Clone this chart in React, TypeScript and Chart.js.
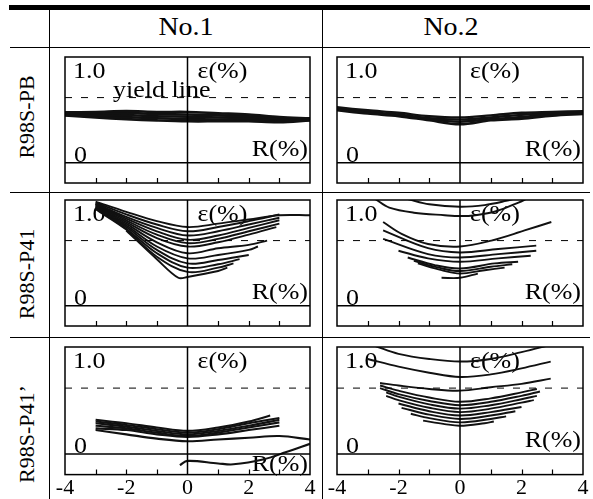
import React, { useEffect, useRef } from "react";
import { Chart, registerables } from "chart.js";

Chart.register(...registerables);

const FONT = '"Liberation Serif", "Times New Roman", serif';

// ---- axes / labels ----
const xMin = -4;
const xMax = 4;
const yMin = -0.24;
const yMax = 1.25;
const yieldLevel = 0.77;
const xTickStep = 2;
const minorTickValues = [-3, -2, -1, 1, 2, 3];
const columnTitles = ["No.1", "No.2"];
const rowTitles = ["R98S-PB", "R98S-P41", "R98S-P41’"];

type P = [number, number];

// ---- R98S-PB, No.1 ----
const pb1a: P[] = [[-4, 0.595], [-3, 0.6], [-2, 0.61], [-1, 0.6], [0, 0.6], [1, 0.585], [2, 0.57], [3, 0.54], [4, 0.525]];
const pb1b: P[] = [[-4, 0.585], [-3, 0.585], [-2, 0.59], [-1, 0.575], [0, 0.57], [1, 0.56], [2, 0.55], [3, 0.525], [4, 0.52]];
const pb1c: P[] = [[-4, 0.575], [-3, 0.565], [-2, 0.565], [-1, 0.55], [0, 0.545], [1, 0.535], [2, 0.53], [3, 0.51], [4, 0.51]];
const pb1d: P[] = [[-4, 0.565], [-3, 0.55], [-2, 0.54], [-1, 0.525], [0, 0.515], [1, 0.51], [2, 0.51], [3, 0.495], [4, 0.505]];
const pb1e: P[] = [[-4, 0.56], [-3, 0.535], [-2, 0.515], [-1, 0.5], [0, 0.49], [1, 0.49], [2, 0.49], [3, 0.48], [4, 0.5]];

// ---- R98S-PB, No.2 ----
const pb2a: P[] = [[-4, 0.655], [-3, 0.62], [-2, 0.59], [-1, 0.55], [0, 0.535], [1, 0.56], [2, 0.59], [3, 0.6], [4, 0.61]];
const pb2b: P[] = [[-4, 0.64], [-3, 0.6], [-2, 0.57], [-1, 0.525], [0, 0.51], [1, 0.535], [2, 0.565], [3, 0.585], [4, 0.595]];
const pb2c: P[] = [[-4, 0.63], [-3, 0.59], [-2, 0.56], [-1, 0.51], [0, 0.485], [1, 0.515], [2, 0.54], [3, 0.57], [4, 0.585]];
const pb2d: P[] = [[-4, 0.62], [-3, 0.58], [-2, 0.55], [-1, 0.5], [0, 0.455], [1, 0.5], [2, 0.52], [3, 0.555], [4, 0.575]];

// ---- R98S-P41, No.1 ----
const p41n1a: P[] = [[-3, 1.23], [-2, 1.11], [-1, 1.0], [0, 0.93], [1, 0.97], [2, 1.02], [3, 1.07], [4, 1.07]];
const p41n1b: P[] = [[-3, 1.22], [-2, 1.08], [-1, 0.96], [0, 0.88], [1, 0.93], [2, 1.0], [3, 1.08]];
const p41n1c: P[] = [[-3, 1.21], [-2, 1.05], [-1, 0.92], [0, 0.83], [1, 0.88], [2, 0.96], [3, 1.04]];
const p41n1d: P[] = [[-3, 1.2], [-2, 1.03], [-1, 0.88], [0, 0.78], [1, 0.83], [2, 0.92], [3, 1.01]];
const p41n1e: P[] = [[-3, 1.2], [-2, 1.01], [-1, 0.84], [0, 0.74], [1, 0.79], [2, 0.88], [3, 0.97]];
const p41n1f: P[] = [[-3, 1.19], [-2, 0.99], [-1, 0.8], [0, 0.7], [1, 0.75], [2, 0.84], [2.9, 0.93]];
const p41n1g: P[] = [[-3, 1.18], [-2, 0.97], [-1, 0.75], [0, 0.62], [1, 0.68], [2, 0.72], [2.6, 0.77]];
const p41n1h: P[] = [[-3, 1.17], [-2, 0.95], [-1, 0.7], [0, 0.56], [1, 0.6], [2, 0.66], [2.3, 0.7]];
const p41n1i: P[] = [[-3, 1.16], [-2, 0.93], [-1, 0.66], [0, 0.5], [1, 0.54], [2, 0.6]];
const p41n1j: P[] = [[-3, 1.15], [-2, 0.91], [-1, 0.62], [0, 0.45], [1, 0.49], [1.7, 0.55]];
const p41n1k: P[] = [[-3, 1.14], [-2, 0.9], [-1, 0.58], [0, 0.4], [1, 0.45], [1.5, 0.5]];
const p41n1l: P[] = [[-2, 0.89], [-1, 0.55], [-0.3, 0.33], [0, 0.34], [1, 0.41], [1.3, 0.45]];

// ---- R98S-P41, No.2 ----
const p41n2a: P[] = [[-2.75, 1.26], [-2.3, 1.16], [-1.5, 1.1], [-0.5, 1.07], [0, 1.06], [0.5, 1.07], [1.2, 1.12], [1.9, 1.22], [2.2, 1.27]];
const p41n2b: P[] = [[-1.7, 1.26], [-1, 1.2], [0, 1.17], [0.8, 1.19], [1.5, 1.24], [1.8, 1.27]];
const p41n2c: P[] = [[-2.5, 0.99], [-1.9, 0.85], [-1.04, 0.73], [0, 0.7], [1.02, 0.77], [2.1, 0.89], [2.97, 0.99]];
const p41n2d: P[] = [[-2.5, 0.89], [-1.04, 0.68], [0, 0.63], [1.24, 0.67], [2.48, 0.71]];
const p41n2e: P[] = [[-2.5, 0.79], [-1.04, 0.61], [0, 0.57], [1.24, 0.61], [2.48, 0.65]];
const p41n2f: P[] = [[-2.0, 0.65], [-1.04, 0.56], [0, 0.52], [1.24, 0.56], [2.3, 0.59]];
const p41n2g: P[] = [[-1.7, 0.57], [-0.82, 0.48], [0, 0.44], [1.13, 0.5], [1.89, 0.52]];
const p41n2h: P[] = [[-1.5, 0.53], [-0.7, 0.45], [0, 0.41], [1, 0.46], [1.7, 0.49]];
const p41n2i: P[] = [[-1.37, 0.5], [-0.6, 0.42], [0, 0.38], [0.8, 0.42], [1.45, 0.45]];
const p41n2j: P[] = [[-0.6, 0.33], [0, 0.33], [0.58, 0.38]];

// ---- R98S-P41', No.1 ----
const p41pn1a: P[] = [[-3, 0.4], [-2, 0.36], [-1, 0.31], [0, 0.27], [1, 0.31], [2, 0.38], [2.7, 0.45]];
const p41pn1b: P[] = [[-3, 0.38], [-2, 0.34], [-1, 0.29], [0, 0.25], [1, 0.29], [2, 0.36], [3, 0.42]];
const p41pn1c: P[] = [[-3, 0.36], [-2, 0.32], [-1, 0.27], [0, 0.23], [1, 0.27], [2, 0.33], [3, 0.4]];
const p41pn1d: P[] = [[-3, 0.33], [-2, 0.3], [-1, 0.25], [0, 0.21], [1, 0.25], [2, 0.31], [3, 0.37]];
const p41pn1e: P[] = [[-3, 0.3], [-2, 0.28], [-1, 0.23], [0, 0.2], [1, 0.23], [2, 0.28], [3, 0.33]];
const p41pn1f: P[] = [[-3, 0.28], [-2, 0.23], [-1, 0.18], [0, 0.15], [1, 0.17], [2, 0.19], [3, 0.21], [4, 0.17]];
const p41pn1g: P[] = [[-0.25, -0.13], [0, -0.08], [1, -0.11], [1.5, -0.12], [2.5, -0.06], [3.2, 0.02], [4, 0.12]];

// ---- R98S-P41', No.2 ----
const p41pn2a: P[] = [[-2.75, 1.26], [-2, 1.17], [-1, 1.11], [0, 1.08], [1, 1.11], [2, 1.19], [3, 1.28]];
const p41pn2b: P[] = [[-3, 1.11], [-2, 1.02], [-1, 0.95], [0, 0.9], [1, 0.93], [2, 1.0], [2.95, 1.08]];
const p41pn2c: P[] = [[-2.6, 0.83], [-2, 0.8], [-1, 0.76], [0, 0.74], [1, 0.78], [2, 0.82], [2.95, 0.88]];
const p41pn2d: P[] = [[-2.6, 0.8], [-2, 0.74], [-1, 0.66], [0, 0.61], [1, 0.65], [2, 0.72], [2.5, 0.76]];
const p41pn2e: P[] = [[-2.6, 0.77], [-2, 0.7], [-1, 0.62], [0, 0.57], [1, 0.61], [2, 0.68], [2.6, 0.73]];
const p41pn2f: P[] = [[-2.4, 0.72], [-2, 0.67], [-1, 0.58], [0, 0.53], [1, 0.57], [2, 0.64], [2.5, 0.68]];
const p41pn2g: P[] = [[-2.4, 0.68], [-2, 0.63], [-1, 0.54], [0, 0.49], [1, 0.53], [2, 0.6], [2.4, 0.63]];
const p41pn2h: P[] = [[-2.0, 0.59], [-1, 0.5], [0, 0.45], [1, 0.49], [2, 0.55]];
const p41pn2i: P[] = [[-1.9, 0.54], [-1, 0.46], [0, 0.41], [1, 0.45], [1.8, 0.5]];
const p41pn2j: P[] = [[-1.6, 0.47], [-1, 0.42], [0, 0.37], [1, 0.41], [1.5, 0.44]];
const p41pn2k: P[] = [[-1.2, 0.39], [-0.5, 0.35], [0, 0.33], [0.8, 0.36], [1.1, 0.38]];

type PanelSpec = {
  curves: P[][];
  width: number;
  yieldText?: boolean;
  rBelow?: boolean;
};

const panels: PanelSpec[][] = [
  [
    { curves: [pb1a, pb1b, pb1c, pb1d, pb1e], width: 2.6, yieldText: true },
    { curves: [pb2a, pb2b, pb2c, pb2d], width: 2.4 },
  ],
  [
    { curves: [p41n1a, p41n1b, p41n1c, p41n1d, p41n1e, p41n1f, p41n1g, p41n1h, p41n1i, p41n1j, p41n1k, p41n1l], width: 1.9 },
    { curves: [p41n2a, p41n2b, p41n2c, p41n2d, p41n2e, p41n2f, p41n2g, p41n2h, p41n2i, p41n2j], width: 1.9 },
  ],
  [
    { curves: [p41pn1a, p41pn1b, p41pn1c, p41pn1d, p41pn1e, p41pn1f, p41pn1g], width: 2.1, rBelow: true },
    { curves: [p41pn2a, p41pn2b, p41pn2c, p41pn2d, p41pn2e, p41pn2f, p41pn2g, p41pn2h, p41pn2i, p41pn2j, p41pn2k], width: 1.9 },
  ],
];

// layout of the plot boxes (page px)
const colBoxes = [
  { left: 65, width: 245 },
  { left: 337, width: 246 },
];
const rowBoxes = [
  { top: 57, height: 126 },
  { top: 200, height: 126 },
  { top: 347, height: 127 },
];
const PAD_X = 16;
const PAD_Y = 4;
const AXIS_H = 27;
const STRETCH = 1.13;

function drawText(ctx: CanvasRenderingContext2D, text: string, x: number, y: number, align: "left" | "right") {
  ctx.save();
  ctx.translate(x, y);
  ctx.scale(STRETCH, 1);
  ctx.textAlign = align;
  ctx.fillText(text, 0, 0);
  ctx.restore();
}

const panelDeco = {
  id: "panelDeco",
  beforeDatasetsDraw(chart: any, _args: any, opts: any) {
    const { ctx, chartArea: a, scales } = chart;
    const x = scales.x;
    const y = scales.y;
    ctx.save();
    ctx.fillStyle = "#000";
    ctx.font = `23px ${FONT}`;
    ctx.textBaseline = "alphabetic";
    drawText(ctx, "1.0", a.left + 8, y.getPixelForValue(1.0), "left");
    drawText(ctx, "0", a.left + 9, y.getPixelForValue(0) - 1, "left");
    drawText(ctx, "ε(%)", x.getPixelForValue(0) + 10, y.getPixelForValue(1.0), "left");
    if (opts.rBelow) drawText(ctx, "R(%)", a.right - 2, a.bottom - 4, "right");
    else drawText(ctx, "R(%)", a.right - 2, y.getPixelForValue(0) - 7, "right");
    if (opts.yieldText) {
      drawText(ctx, "yield line", x.getPixelForValue(-2.43), y.getPixelForValue(yieldLevel) - 1, "left");
    }
    ctx.restore();
  },
  afterDatasetsDraw(chart: any) {
    const { ctx, chartArea: a, scales } = chart;
    const x = scales.x;
    ctx.save();
    ctx.strokeStyle = "#000";
    ctx.lineWidth = 1.5;
    ctx.strokeRect(a.left, a.top, a.right - a.left, a.bottom - a.top);
    ctx.lineWidth = 1.2;
    ctx.beginPath();
    for (const v of minorTickValues) {
      const px = Math.round(x.getPixelForValue(v)) + 0.5;
      ctx.moveTo(px, a.bottom);
      ctx.lineTo(px, a.bottom - 5);
    }
    ctx.stroke();
    ctx.restore();
  },
};

function toXY(c: P[]) {
  return c.map(([x, y]) => ({ x, y }));
}

function Panel({ spec, row, col }: { spec: PanelSpec; row: number; col: number }) {
  const ref = useRef<HTMLCanvasElement | null>(null);
  const bottomRow = row === rowBoxes.length - 1;
  const cb = colBoxes[col];
  const rb = rowBoxes[row];
  const wrapStyle: React.CSSProperties = {
    position: "absolute",
    left: cb.left - PAD_X,
    top: rb.top - PAD_Y,
    width: cb.width + 2 * PAD_X,
    height: rb.height + PAD_Y + (bottomRow ? AXIS_H : PAD_Y),
  };

  useEffect(() => {
    if (!ref.current) return;
    const refLines = [
      { data: [{ x: xMin, y: 0 }, { x: xMax, y: 0 }], borderColor: "#000", borderWidth: 1.5, showLine: true, pointRadius: 0, tension: 0 },
      { data: [{ x: 0, y: yMin }, { x: 0, y: yMax }], borderColor: "#000", borderWidth: 1.5, showLine: true, pointRadius: 0, tension: 0 },
      { data: [{ x: xMin, y: yieldLevel }, { x: xMax, y: yieldLevel }], borderColor: "#000", borderWidth: 1, borderDash: [7, 9], showLine: true, pointRadius: 0, tension: 0 },
    ];
    const curveSets = spec.curves.map((c) => ({
      data: toXY(c),
      borderColor: "#111",
      borderWidth: spec.width,
      showLine: true,
      pointRadius: 0,
      tension: 0.35,
    }));
    const chart = new Chart(ref.current, {
      type: "scatter",
      data: { datasets: [...refLines, ...curveSets] as any },
      options: {
        animation: false,
        responsive: true,
        maintainAspectRatio: false,
        layout: { padding: { left: PAD_X, right: PAD_X, top: PAD_Y, bottom: bottomRow ? 0 : PAD_Y } },
        plugins: {
          legend: { display: false },
          tooltip: { enabled: false },
          panelDeco: { yieldText: !!spec.yieldText, rBelow: !!spec.rBelow },
        } as any,
        scales: {
          x: {
            type: "linear",
            min: xMin,
            max: xMax,
            display: bottomRow,
            grid: { display: false, drawTicks: false },
            border: { display: false },
            ticks: {
              stepSize: xTickStep,
              autoSkip: false,
              maxRotation: 0,
              padding: 0,
              color: "#000",
              font: { family: FONT, size: 22 },
            },
          },
          y: { type: "linear", min: yMin, max: yMax, display: false },
        },
      },
      plugins: [panelDeco as any],
    });
    return () => chart.destroy();
  }, []);

  return (
    <div style={wrapStyle}>
      <canvas ref={ref} />
    </div>
  );
}

const line = (s: React.CSSProperties): React.CSSProperties => ({ position: "absolute", background: "#000", ...s });

export default function App() {
  const colCenters = [186, 451];
  const rowCenters = [117, 274, 434];
  return (
    <div
      style={{
        position: "absolute",
        left: 0,
        top: 0,
        width: 593,
        height: 499,
        background: "#fff",
        fontFamily: FONT,
        color: "#000",
        overflow: "hidden",
      }}
    >
      <div style={line({ left: 9, top: 5, width: 581, height: 5 })} />
      <div style={line({ left: 10, top: 47, width: 580, height: 1 })} />
      <div style={line({ left: 10, top: 192, width: 580, height: 1 })} />
      <div style={line({ left: 10, top: 337, width: 580, height: 1 })} />
      <div style={line({ left: 49, top: 10, width: 1, height: 489 })} />
      <div style={line({ left: 322, top: 10, width: 1, height: 489 })} />
      {columnTitles.map((t, i) => (
        <div
          key={t}
          style={{
            position: "absolute",
            left: colCenters[i],
            top: 26,
            transform: "translate(-50%, -50%) scaleX(1.12)",
            fontSize: 25,
            whiteSpace: "nowrap",
            lineHeight: 1,
          }}
        >
          {t}
        </div>
      ))}
      {rowTitles.map((t, i) => (
        <div
          key={t}
          style={{
            position: "absolute",
            left: 27,
            top: rowCenters[i],
            transform: "translate(-50%, -50%) rotate(-90deg)",
            fontSize: 22,
            whiteSpace: "nowrap",
            lineHeight: 1,
          }}
        >
          {t}
        </div>
      ))}
      {panels.map((r, ri) => r.map((spec, ci) => <Panel key={`${ri}-${ci}`} spec={spec} row={ri} col={ci} />))}
    </div>
  );
}
